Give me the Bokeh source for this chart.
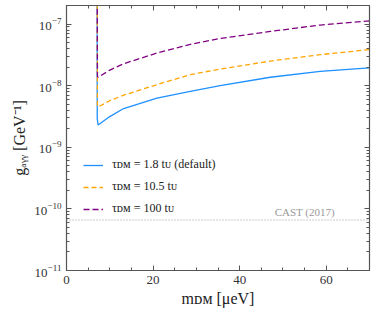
import numpy as np
from bokeh.plotting import figure
from bokeh.models import (FixedTicker, LinearAxis, LogAxis, CustomJSTickFormatter,
                          Legend, LegendItem, Label, Span, Range1d)
from bokeh.embed import file_html
from bokeh.resources import INLINE

# ---- data ----
m_blue = [7.05, 7.1, 7.3, 10.0, 13.2, 20.9, 28.6, 35.5, 47.1, 58.6, 70.0]
g_blue = [1e-5, 2.9e-9, 2.3e-9, 3.15e-9, 4.25e-9, 6.3e-9, 8.1e-9, 1.0e-8, 1.37e-8, 1.7e-8, 1.95e-8]

m_orange = [7.05, 7.15, 7.3, 10.0, 13.2, 20.9, 28.6, 35.5, 47.1, 58.6, 70.0]
g_orange = [1e-5, 4.7e-9, 4.5e-9, 5.7e-9, 7.0e-9, 1.04e-8, 1.51e-8, 1.86e-8, 2.51e-8, 3.18e-8, 3.85e-8]

m_purple = [7.05, 7.15, 7.3, 10.0, 13.2, 20.9, 28.6, 35.5, 47.1, 58.6, 70.0]
g_purple = [1e-5, 1.42e-8, 1.37e-8, 1.79e-8, 2.27e-8, 3.39e-8, 4.68e-8, 5.83e-8, 7.59e-8, 9.64e-8, 1.13e-7]

labels = ["τᴅᴍ = 1.8 tᴜ (default)", "τᴅᴍ = 10.5 tᴜ", "τᴅᴍ = 100 tᴜ"]
cast_limit = 6.6e-11
cast_label = "CAST (2017)"

x_ticks = [0, 20, 40, 60]
y_ticks = [1e-11, 1e-10, 1e-9, 1e-8, 1e-7]

SERIF = "Liberation Serif"
AX = "#555555"

p = figure(width=372, height=312, y_axis_type="log",
           x_range=Range1d(0, 70), y_range=Range1d(1e-11, 2e-7),
           output_backend="svg", toolbar_location=None,
           min_border_left=66, min_border_right=3, min_border_top=5, min_border_bottom=42)
p.outline_line_color = AX
p.outline_line_width = 1.2
p.xgrid.visible = False
p.ygrid.visible = False
p.background_fill_color = "white"

x_minor = [v for v in range(0, 71, 5) if v not in x_ticks]
y_minor = [k * 10.0 ** e for e in range(-11, -6) for k in range(2, 10)]
xt = FixedTicker(ticks=x_ticks, minor_ticks=x_minor)
yt = FixedTicker(ticks=y_ticks, minor_ticks=y_minor)

def style(ax):
    ax.axis_line_color = AX
    ax.major_tick_line_color = AX
    ax.minor_tick_line_color = AX
    ax.major_tick_in = 5
    ax.major_tick_out = 0
    ax.minor_tick_in = 3
    ax.minor_tick_out = 0
    ax.major_label_text_font = SERIF
    ax.major_label_text_font_size = "13px"
    ax.major_label_text_color = "#333333"
    ax.axis_label_text_font = SERIF
    ax.axis_label_text_font_size = "16px"
    ax.axis_label_text_font_style = "normal"
    ax.axis_label_text_color = "#222222"

p.xaxis.ticker = xt
p.yaxis.ticker = yt
style(p.xaxis[0]); style(p.yaxis[0])
p.xaxis.major_label_standoff = 5
p.yaxis.major_label_standoff = 5
p.xaxis.axis_label = "mᴅᴍ [μeV]"
p.yaxis.axis_label = "gₐᵧᵧ [GeV⁻¹]"
p.xaxis.axis_label_standoff = 3
p.yaxis.axis_label_standoff = 3

top = LinearAxis(ticker=xt, formatter=CustomJSTickFormatter(code="return ''"), major_label_standoff=0)
right = LogAxis(ticker=yt, formatter=CustomJSTickFormatter(code="return ''"), major_label_standoff=0)
style(top); style(right)
p.add_layout(top, "above")
p.add_layout(right, "right")

# ---- curves ----
r1 = p.line(m_blue, g_blue, line_color="dodgerblue", line_width=1.3)
r2 = p.line(m_orange, g_orange, line_color="orange", line_width=1.3, line_dash="5 3")
r3 = p.line(m_purple, g_purple, line_color="purple", line_width=1.3, line_dash="6 3")

cast = Span(location=cast_limit, dimension="width", line_color="#999999",
            line_dash="1 2", line_width=1)
p.add_layout(cast)
p.add_layout(Label(x=62, y=cast_limit, y_offset=2, text=cast_label, text_align="right",
                   text_baseline="bottom", text_font=SERIF, text_font_size="11px",
                   text_color="#999999"))

legend = Legend(items=[LegendItem(label=labels[0], renderers=[r1]),
                       LegendItem(label=labels[1], renderers=[r2]),
                       LegendItem(label=labels[2], renderers=[r3])],
                location=(17, 54), padding=0, margin=0, spacing=7,
                glyph_width=20, glyph_height=14, label_height=14, label_standoff=9,
                label_text_font=SERIF, label_text_font_size="12px",
                label_text_color="#222222",
                background_fill_alpha=0, border_line_color=None)
p.add_layout(legend)

open("out.html", "w").write(file_html(p, INLINE))
